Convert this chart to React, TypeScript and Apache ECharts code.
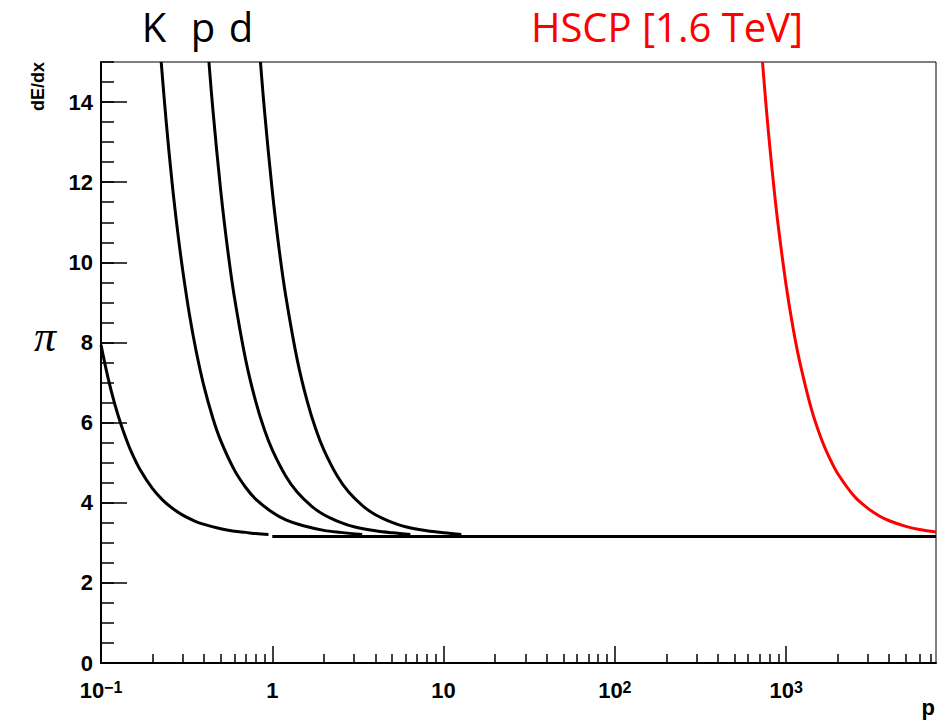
import React, { useEffect, useRef } from "react";
import * as echarts from "echarts";

// momentum p (log axis) and dE/dx values
const pionP = [0.1, 0.11, 0.12, 0.13, 0.14, 0.15, 0.17, 0.2, 0.23, 0.26, 0.3, 0.35, 0.4, 0.5, 0.6, 0.7, 0.8, 0.95];
const pionY = [7.94, 7.11, 6.48, 5.99, 5.6, 5.28, 4.81, 4.35, 4.06, 3.87, 3.69, 3.55, 3.46, 3.35, 3.29, 3.26, 3.23, 3.21];

const kaonP = [0.2246, 0.24, 0.26, 0.28, 0.3, 0.33, 0.36, 0.4, 0.45, 0.5, 0.6, 0.7, 0.8, 1.0, 1.2, 1.5, 2.0, 2.5, 3.35];
const kaonY = [15.0, 13.53, 11.99, 10.78, 9.8, 8.64, 7.77, 6.89, 6.11, 5.55, 4.82, 4.38, 4.09, 3.76, 3.57, 3.43, 3.31, 3.26, 3.21];

const protonP = [0.4268, 0.45, 0.5, 0.55, 0.6, 0.7, 0.8, 0.9, 1.0, 1.2, 1.4, 1.7, 2.0, 2.5, 3.0, 4.0, 5.0, 6.4];
const protonY = [15.0, 13.81, 11.79, 10.29, 9.15, 7.56, 6.53, 5.82, 5.32, 4.66, 4.26, 3.91, 3.7, 3.51, 3.4, 3.3, 3.25, 3.21];

const deuteronP = [0.853, 0.9, 1.0, 1.1, 1.2, 1.4, 1.6, 1.8, 2.0, 2.4, 2.8, 3.4, 4.0, 5.0, 6.0, 8.0, 10, 12.7];
const deuteronY = [15.0, 13.8, 11.78, 10.28, 9.15, 7.56, 6.53, 5.82, 5.32, 4.66, 4.26, 3.91, 3.7, 3.51, 3.4, 3.3, 3.25, 3.21];

const plateauP = [1, 7500];
const plateauY = [3.16, 3.16];

const hscpP = [728, 760, 800, 850, 900, 1000, 1100, 1200, 1400, 1600, 1800, 2000, 2500, 3000, 3500, 4000, 5000, 6000, 7500];
const hscpY = [15.0, 14.02, 12.96, 11.84, 10.9, 9.43, 8.34, 7.52, 6.36, 5.61, 5.1, 4.73, 4.16, 3.86, 3.67, 3.55, 3.41, 3.33, 3.27];

const xMajorTicks = [0.1, 1, 10, 100, 1000];
const xMinorTicks = [
  0.2, 0.3, 0.4, 0.5, 0.6, 0.7, 0.8, 0.9,
  2, 3, 4, 5, 6, 7, 8, 9,
  20, 30, 40, 50, 60, 70, 80, 90,
  200, 300, 400, 500, 600, 700, 800, 900,
  2000, 3000, 4000, 5000, 6000, 7000,
];
const yMajorTicks = [0, 2, 4, 6, 8, 10, 12, 14];

const particleLabels = ["K", "p", "d"];
const hscpLabel = "HSCP [1.6 TeV]";

const zip = (xs: number[], ys: number[]) => xs.map((x, i) => [x, ys[i]]);

const AXIS_FONT = "'Liberation Sans', Arial, Helvetica, sans-serif";
const TEXT_FONT = "'Open Sans', 'Noto Sans', sans-serif";

export default function App() {
  const ref = useRef<HTMLDivElement>(null);
  useEffect(() => {
    if (!ref.current) return;
    const chart = echarts.init(ref.current, undefined, { renderer: "svg" });

    const lineSeries = (name: string, xs: number[], ys: number[], color: string) => ({
      name,
      type: "line",
      data: zip(xs, ys),
      showSymbol: false,
      symbol: "none",
      smooth: 0.35,
      clip: true,
      lineStyle: { color, width: 3 },
      xAxisIndex: 0,
      yAxisIndex: 0,
    });

    const option: any = {
      animation: false,
      backgroundColor: "#ffffff",
      grid: {
        left: 101,
        right: 16,
        top: 62,
        bottom: 62,
        show: true,
        borderColor: "#000",
        borderWidth: 1,
        backgroundColor: "transparent",
      },
      xAxis: [
        {
          type: "log",
          logBase: 10,
          min: 0.1,
          max: 7500,
          position: "bottom",
          axisLine: { show: true, onZero: false, lineStyle: { color: "#000", width: 2 } },
          axisTick: {
            show: true,
            inside: true,
            length: 17,
            customValues: xMajorTicks,
            lineStyle: { color: "#000", width: 1.5 },
          },
          axisLabel: {
            show: true,
            customValues: xMajorTicks,
            margin: 16,
            color: "#000",
            formatter: (v: number) => {
              const e = Math.round(Math.log10(v));
              if (e === 0) return "{b|1}";
              if (e === 1) return "{b|10}";
              const ex = e < 0 ? "\u2212" + Math.abs(e) : String(e);
              return "{b|10}{s|" + ex + "}";
            },
            rich: {
              b: {
                fontFamily: AXIS_FONT,
                fontWeight: "bold",
                fontSize: 22,
                lineHeight: 22,
                padding: [2, 0, 0, 0],
                verticalAlign: "bottom",
                color: "#000",
              },
              s: {
                fontFamily: AXIS_FONT,
                fontWeight: "bold",
                fontSize: 16,
                lineHeight: 16,
                verticalAlign: "top",
                color: "#000",
              },
            },
          },
          splitLine: { show: false },
          minorTick: { show: false },
        },
        {
          type: "log",
          logBase: 10,
          min: 0.1,
          max: 7500,
          position: "bottom",
          axisLine: { show: false },
          axisTick: {
            show: true,
            inside: true,
            length: 9,
            customValues: xMinorTicks,
            lineStyle: { color: "#000", width: 1.5 },
          },
          axisLabel: { show: false },
          splitLine: { show: false },
        },
      ],
      yAxis: [
        {
          type: "value",
          min: 0,
          max: 15,
          interval: 2,
          position: "left",
          axisLine: { show: true, onZero: false, lineStyle: { color: "#000", width: 2 } },
          axisTick: {
            show: true,
            inside: true,
            length: 26,
            customValues: yMajorTicks,
            lineStyle: { color: "#000", width: 1.5 },
          },
          axisLabel: {
            show: true,
            customValues: yMajorTicks,
            margin: 8,
            color: "#000",
            fontFamily: AXIS_FONT,
            fontWeight: "bold",
            fontSize: 22,
          },
          splitLine: { show: false },
        },
        {
          type: "value",
          min: 0,
          max: 15,
          interval: 0.5,
          position: "left",
          axisLine: { show: false },
          axisTick: {
            show: true,
            inside: true,
            length: 13,
            lineStyle: { color: "#000", width: 1.5 },
          },
          axisLabel: { show: false },
          splitLine: { show: false },
        },
      ],
      series: [
        lineSeries("π", pionP, pionY, "#000"),
        lineSeries("K", kaonP, kaonY, "#000"),
        lineSeries("p", protonP, protonY, "#000"),
        lineSeries("d", deuteronP, deuteronY, "#000"),
        lineSeries("plateau", plateauP, plateauY, "#000"),
        lineSeries("HSCP", hscpP, hscpY, "#ff0000"),
      ],
      graphic: [
        {
          type: "text",
          x: 154,
          y: 26,
          style: { text: particleLabels[0], font: `40px ${TEXT_FONT}`, fill: "#000", align: "center", verticalAlign: "middle" },
        },
        {
          type: "text",
          x: 203,
          y: 26,
          style: { text: particleLabels[1], font: `40px ${TEXT_FONT}`, fill: "#000", align: "center", verticalAlign: "middle" },
        },
        {
          type: "text",
          x: 241,
          y: 26,
          style: { text: particleLabels[2], font: `40px ${TEXT_FONT}`, fill: "#000", align: "center", verticalAlign: "middle" },
        },
        {
          type: "text",
          x: 667,
          y: 26,
          style: { text: hscpLabel, font: `40px ${TEXT_FONT}`, fill: "#ff0000", align: "center", verticalAlign: "middle" },
        },
        {
          type: "text",
          x: 45,
          y: 336,
          style: {
            text: "π",
            font: `italic 44px 'Liberation Serif', 'DejaVu Serif', serif`,
            fill: "#000",
            align: "center",
            verticalAlign: "middle",
          },
        },
        {
          type: "text",
          x: 935,
          y: 707,
          style: {
            text: "p",
            font: `bold 22px ${AXIS_FONT}`,
            fill: "#000",
            align: "right",
            verticalAlign: "middle",
          },
        },
        {
          type: "text",
          x: 38,
          y: 62,
          rotation: Math.PI / 2,
          style: {
            text: "dE/dx",
            font: `bold 18px ${AXIS_FONT}`,
            fill: "#000",
            align: "right",
            verticalAlign: "middle",
          },
        },
      ],
    };

    chart.setOption(option);
    return () => chart.dispose();
  }, []);

  return (
    <div
      ref={ref}
      style={{ position: "fixed", left: 0, top: 0, width: 952, height: 725 }}
    />
  );
}
